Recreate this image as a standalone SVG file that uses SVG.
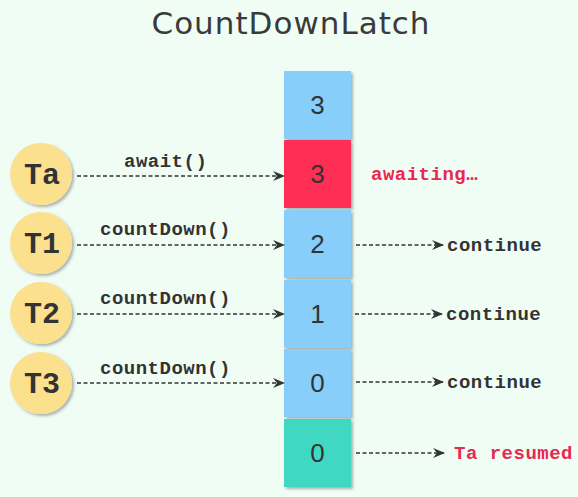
<svg xmlns="http://www.w3.org/2000/svg" width="578" height="497" viewBox="0 0 578 497">
  <style>
    .title { font-family: "DejaVu Sans", "Liberation Sans", sans-serif; font-size: 31px; letter-spacing: 1px; fill: #3a3a3a; }
    .thread { fill: #fbe08e; filter: url(#shadow); }
    .tname { font-family: "Liberation Mono", "DejaVu Sans Mono", monospace; font-weight: bold; font-size: 30px; fill: #333; text-anchor: middle; }
    .cell { filter: url(#shadow); }
    .blue { fill: #87cffa; }
    .red { fill: #fe2f55; }
    .green { fill: #40d8c3; }
    .num { font-family: "Liberation Sans", "Open Sans", sans-serif; font-size: 26px; fill: #333; text-anchor: middle; }
    .code { font-family: "Liberation Mono", "DejaVu Sans Mono", monospace; font-weight: bold; font-size: 19px; letter-spacing: 0.5px; fill: #333; }
    .alert { fill: #e8284f; }
    .link { stroke: #333; stroke-width: 1.4; stroke-dasharray: 4 2.5; fill: none; marker-end: url(#head); }
  </style>
  <defs>
    <filter id="shadow" x="-20%" y="-20%" width="150%" height="150%">
      <feDropShadow dx="2" dy="2" stdDeviation="1.5" flood-color="#000" flood-opacity="0.3"/>
    </filter>
    <marker id="head" viewBox="0 0 12 10" refX="11" refY="5" markerWidth="12" markerHeight="10" markerUnits="userSpaceOnUse" orient="auto">
      <path d="M0,0 L12,5 L0,10 L4,5 Z" fill="#333"/>
    </marker>
  </defs>

  <rect width="578" height="497" fill="#f0fdf5"/>

  <text class="title" x="291" y="34" text-anchor="middle">CountDownLatch</text>

  <!-- latch counter cells -->
  <g id="cell-initial"><rect class="cell blue" x="284" y="71" width="67" height="68"/><text class="num" x="317.5" y="114">3</text></g>
  <g id="cell-await"><rect class="cell red" x="284" y="140" width="67" height="68"/><text class="num" x="317.5" y="183">3</text></g>
  <g id="cell-two"><rect class="cell blue" x="284" y="210" width="67" height="68"/><text class="num" x="317.5" y="253">2</text></g>
  <g id="cell-one"><rect class="cell blue" x="284" y="280" width="67" height="68"/><text class="num" x="317.5" y="323">1</text></g>
  <g id="cell-zero"><rect class="cell blue" x="284" y="349" width="67" height="68"/><text class="num" x="317.5" y="392">0</text></g>
  <g id="cell-released"><rect class="cell green" x="284" y="419" width="67" height="68"/><text class="num" x="317.5" y="462">0</text></g>

  <!-- threads -->
  <g id="thread-Ta"><circle class="thread" cx="41" cy="174" r="31"/><text class="tname" x="42" y="184">Ta</text></g>
  <g id="thread-T1"><circle class="thread" cx="41" cy="243" r="31"/><text class="tname" x="42" y="253">T1</text></g>
  <g id="thread-T2"><circle class="thread" cx="41" cy="313" r="31"/><text class="tname" x="42" y="323">T2</text></g>
  <g id="thread-T3"><circle class="thread" cx="41" cy="383" r="31"/><text class="tname" x="42" y="393">T3</text></g>

  <!-- calls and outcomes -->
  <g id="connectors">
    <line class="link" x1="77" y1="176" x2="284" y2="176"/>
    <line class="link" x1="77" y1="245" x2="284" y2="245"/>
    <line class="link" x1="77" y1="314" x2="284" y2="314"/>
    <line class="link" x1="77" y1="383" x2="284" y2="383"/>
    <line class="link" x1="356" y1="245" x2="443" y2="245"/>
    <line class="link" x1="355" y1="314" x2="442" y2="314"/>
    <line class="link" x1="356" y1="382" x2="443" y2="382"/>
    <line class="link" x1="356" y1="453" x2="444" y2="453"/>
  </g>

  <g id="labels">
    <text class="code" x="124" y="167">await()</text>
    <text class="code" x="100" y="235">countDown()</text>
    <text class="code" x="100" y="304">countDown()</text>
    <text class="code" x="100" y="374">countDown()</text>
    <text class="code alert" x="371" y="180">awaiting…</text>
    <text class="code" x="447" y="251">continue</text>
    <text class="code" x="446" y="320">continue</text>
    <text class="code" x="447" y="388">continue</text>
    <text class="code alert" x="454" y="459">Ta resumed</text>
  </g>
</svg>
